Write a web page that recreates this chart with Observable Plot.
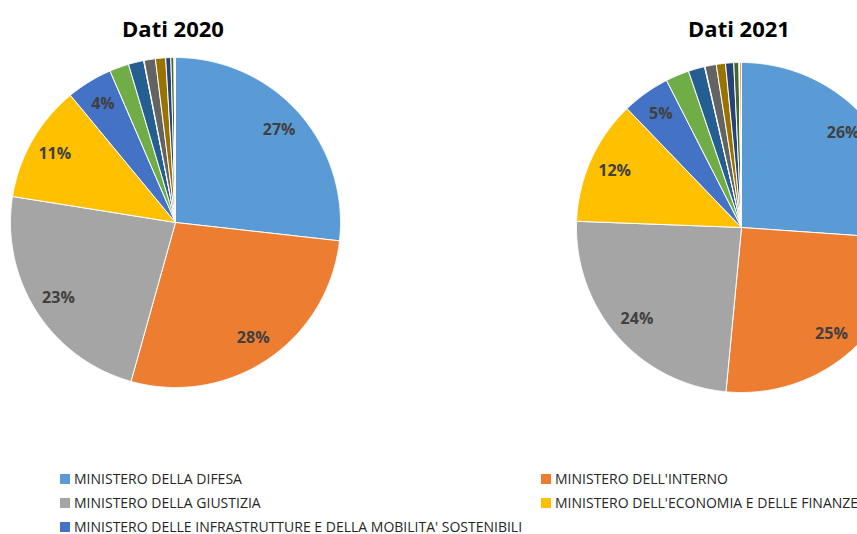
<!DOCTYPE html>
<html><head><meta charset="utf-8">
<script src="https://cdn.jsdelivr.net/npm/d3@7"></script>
<script src="https://cdn.jsdelivr.net/npm/@observablehq/plot@0.6"></script>
<style>
body{margin:0;background:#fff;font-family:"Open Sans",sans-serif;}
#wrap{position:relative;width:857px;height:534px;overflow:hidden;}
.title{position:absolute;top:17px;font:bold 22px "Open Sans",sans-serif;color:#000;transform:translateX(-50%);white-space:nowrap;line-height:1;}
.item{position:absolute;font-size:14px;color:#262626;white-space:nowrap;line-height:14px;}
.sw{display:inline-block;width:10px;height:10px;margin-right:4px;vertical-align:0px;}
</style></head>
<body><div id="wrap"></div>
<script>
// ---- data ----
const categories = [
  "MINISTERO DELLA DIFESA",
  "MINISTERO DELL'INTERNO",
  "MINISTERO DELLA GIUSTIZIA",
  "MINISTERO DELL'ECONOMIA E DELLE FINANZE",
  "MINISTERO DELLE INFRASTRUTTURE E DELLA MOBILITA' SOSTENIBILI",
  "ALTRO 6", "ALTRO 7", "ALTRO 8", "ALTRO 9", "ALTRO 10",
  "ALTRO 11", "ALTRO 12", "ALTRO 13", "ALTRO 14"
];
const colors = ["#5B9BD5","#ED7D31","#A5A5A5","#FFC000","#4472C4","#70AD47",
  "#255E91","#9E480E","#636363","#997300","#264478","#43682B","#7CAFDD","#F1975A"];
const values2020 = [26.8, 27.6, 23.2, 11.5, 4.5, 1.9, 1.5, 0.05, 1.1, 1.0, 0.5, 0.3, 0.05, 0.1];
const values2021 = [26.1, 25.4, 24.1, 12.2, 4.7, 2.3, 1.6, 0.05, 1.1, 0.9, 0.8, 0.5, 0.05, 0.2];
const titles = ["Dati 2020", "Dati 2021"];
const legendShown = 5;

// ---- layout ----
const W = 857, H = 460;
const centers = [[175, 222], [741, 227]];
const R = 165, labelR = 139;

const pie = d3.pie().sort(null).value(d => d.v);
const polys = [], labels = [];
[values2020, values2021].forEach((vals, p) => {
  const [cx, cy] = centers[p];
  const total = d3.sum(vals);
  const arcs = pie(vals.map((v, i) => ({v, i})));
  arcs.forEach(a => {
    const key = p + "-" + a.data.i;
    const cat = categories[a.data.i];
    polys.push({key, cat, x: cx, y: cy});
    const n = Math.max(2, Math.ceil((a.endAngle - a.startAngle) / 0.005));
    for (let k = 0; k <= n; k++) {
      const t = a.startAngle + (a.endAngle - a.startAngle) * k / n;
      polys.push({key, cat, x: cx + R * Math.sin(t), y: cy - R * Math.cos(t)});
    }
    polys.push({key, cat, x: cx, y: cy});
    const pct = a.data.v / total * 100;
    if (pct >= 3.5) {
      const m = (a.startAngle + a.endAngle) / 2;
      labels.push({x: cx + labelR * Math.sin(m), y: cy - labelR * Math.cos(m), text: Math.round(pct) + "%"});
    }
  });
});

const chart = Plot.plot({
  width: W, height: H,
  margin: 0,
  x: {domain: [0, W], range: [0, W], axis: null},
  y: {domain: [0, H], range: [0, H], axis: null},
  color: {domain: categories, range: colors},
  style: {background: "#fff"},
  marks: [
    Plot.line(polys, {x: "x", y: "y", z: "key", fill: "cat", stroke: "#fff", strokeWidth: 1, curve: "linear"}),
    Plot.text(labels, {x: "x", y: "y", text: "text", fill: "#404040", fontSize: 16, fontWeight: "bold", fontFamily: "Open Sans"})
  ]
});
const wrap = document.getElementById("wrap");
chart.style.position = "absolute"; chart.style.left = "0"; chart.style.top = "0";
wrap.appendChild(chart);

titles.forEach((t, p) => {
  const d = document.createElement("div");
  d.className = "title";
  d.style.left = (centers[p][0] - 2) + "px";
  d.textContent = t;
  wrap.appendChild(d);
});

for (let i = 0; i < legendShown; i++) {
  const col = i % 2, row = Math.floor(i / 2);
  const d = document.createElement("div");
  d.className = "item";
  d.style.left = (col ? 541 : 60) + "px";
  d.style.top = (472 + row * 24) + "px";
  d.innerHTML = `<span class="sw" style="background:${colors[i]}"></span>`;
  d.appendChild(document.createTextNode(categories[i]));
  wrap.appendChild(d);
}
</script>
</body></html>
